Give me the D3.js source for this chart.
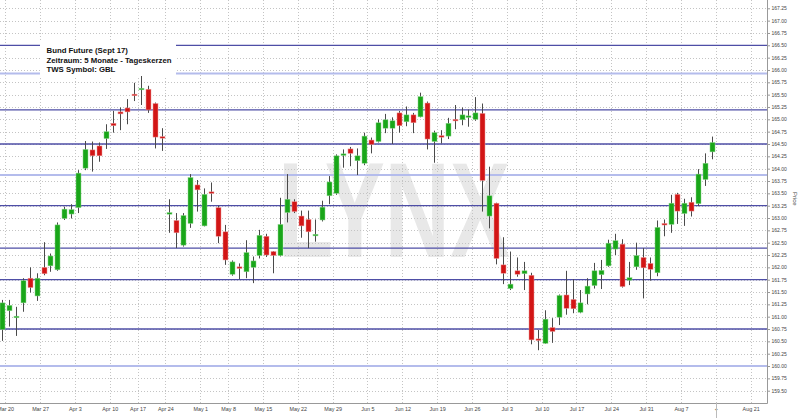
<!DOCTYPE html>
<html>
<head>
<meta charset="utf-8">
<script src="https://cdn.jsdelivr.net/npm/d3@7"></script>
<style>
  body { margin: 0; background: #fff; }
  svg { display: block; font-family: "Liberation Sans", Arial, sans-serif; }
</style>
</head>
<body>
<svg width="800" height="418"></svg>
<script>
const width = 800,
  height = 418;
const plotRight = 767,
  plotBottom = 403;

// Daily candles, Mar 17 - Aug 11 2017 (one entry per trading day)
const opens = [160.74, 161.12, 160.98, 161.28, 161.78, 161.42, 162.00, 162.03, 161.95, 162.99, 163.08, 163.21, 164.01, 164.38, 164.46, 164.61, 164.92, 165.15, 165.23, 165.51, 165.60, 165.61, 165.32, 164.65, 163.08, 162.95, 162.45, 162.89, 163.67, 162.84, 163.53, 163.21, 162.72, 161.86, 162.01, 161.91, 162.00, 162.24, 162.63, 162.32, 162.24, 163.11, 163.33, 163.04, 162.97, 162.64, 162.96, 163.45, 163.50, 164.28, 164.40, 164.16, 164.11, 164.58, 164.55, 164.82, 164.82, 165.13, 164.95, 165.09, 165.05, 165.33, 164.55, 164.67, 164.66, 165.00, 164.99, 165.04, 165.00, 165.12, 163.04, 163.30, 162.05, 161.57, 161.93, 161.87, 161.84, 160.55, 160.46, 160.78, 160.99, 161.44, 161.35, 161.09, 161.46, 161.63, 161.85, 162.03, 162.37, 162.47, 161.74, 162.01, 162.20, 162.08, 161.89, 162.89, 162.87, 163.48, 163.09, 163.32, 163.29, 163.78, 164.34];
const highs = [161.34, 161.34, 161.20, 161.78, 162.00, 161.88, 162.51, 162.28, 162.91, 163.23, 163.28, 163.97, 164.56, 164.55, 164.53, 164.90, 165.17, 165.24, 165.41, 165.74, 165.88, 165.68, 165.34, 164.82, 163.38, 163.10, 163.10, 163.89, 163.77, 163.60, 163.72, 163.25, 162.86, 162.14, 162.08, 162.55, 162.22, 162.76, 162.68, 162.33, 163.41, 163.89, 163.38, 163.15, 163.15, 162.97, 163.35, 163.85, 164.29, 164.39, 164.44, 164.41, 164.73, 164.63, 165.00, 165.11, 165.04, 165.17, 165.26, 165.13, 165.54, 165.36, 164.77, 164.78, 165.03, 165.29, 165.24, 165.20, 165.45, 165.32, 164.04, 163.31, 162.61, 162.32, 162.20, 162.11, 161.89, 160.73, 161.13, 160.97, 161.45, 161.93, 161.76, 161.54, 161.78, 162.09, 162.15, 162.56, 162.68, 162.57, 162.11, 162.50, 162.39, 162.20, 162.95, 162.97, 163.47, 163.51, 163.39, 163.42, 163.99, 164.31, 164.65];
const lows = [160.51, 160.80, 160.61, 161.10, 161.49, 161.32, 161.84, 161.91, 161.93, 162.96, 162.99, 163.10, 163.97, 163.94, 164.14, 164.40, 164.73, 164.78, 164.90, 165.37, 165.29, 165.13, 164.41, 164.36, 162.70, 162.39, 162.42, 162.80, 163.13, 162.83, 163.33, 162.49, 162.05, 161.83, 161.76, 161.78, 161.68, 162.18, 162.21, 161.88, 162.22, 162.91, 163.10, 162.60, 162.39, 162.52, 162.93, 163.28, 163.47, 164.02, 164.05, 163.87, 164.07, 164.31, 164.53, 164.72, 164.50, 164.73, 164.86, 164.72, 165.04, 164.39, 164.12, 164.51, 164.60, 164.80, 164.88, 164.85, 164.97, 163.13, 162.79, 162.06, 161.66, 161.54, 161.81, 161.54, 160.44, 160.32, 160.45, 160.47, 160.83, 161.04, 161.07, 161.07, 161.25, 161.57, 161.56, 162.01, 162.25, 161.59, 161.64, 161.95, 161.37, 161.73, 161.82, 162.63, 162.70, 162.88, 162.84, 163.03, 163.24, 163.65, 164.19];
const closes = [161.28, 161.23, 161.01, 161.73, 161.59, 161.78, 161.87, 162.23, 162.86, 163.18, 163.17, 163.91, 164.39, 164.26, 164.26, 164.75, 164.87, 165.11, 165.15, 165.48, 165.63, 165.19, 164.64, 164.62, 163.11, 162.70, 163.05, 163.82, 163.57, 163.48, 163.50, 162.63, 162.15, 162.11, 161.98, 162.30, 162.13, 162.65, 162.25, 162.24, 162.87, 163.38, 163.13, 162.84, 162.72, 162.67, 163.22, 163.73, 164.26, 164.30, 164.31, 164.26, 164.66, 164.49, 164.93, 164.99, 164.97, 164.87, 165.09, 164.93, 165.46, 164.60, 164.73, 164.64, 164.92, 164.97, 165.09, 165.07, 165.13, 163.76, 163.45, 162.18, 161.88, 161.66, 161.86, 161.93, 160.53, 160.52, 160.95, 160.70, 161.43, 161.17, 161.16, 161.28, 161.62, 161.93, 161.94, 162.49, 162.54, 161.61, 161.79, 162.24, 161.99, 161.96, 162.81, 162.86, 163.30, 163.14, 163.30, 163.14, 163.89, 164.11, 164.53];

// Week labels and the bar (trading day) each week starts on
const weekLabels = ['Mar 20', 'Mar 27', 'Apr 3', 'Apr 10', 'Apr 17', 'Apr 24', 'May 1', 'May 8', 'May 15', 'May 22', 'May 29', 'Jun 5', 'Jun 12', 'Jun 19', 'Jun 26', 'Jul 3', 'Jul 10', 'Jul 17', 'Jul 24', 'Jul 31', 'Aug 7', '+', 'Aug 21'];
const weekBars = [1, 6, 11, 16, 20, 24, 29, 33, 38, 43, 48, 53, 58, 63, 68, 73, 78, 83, 88, 93, 98, 103, 108];

const priceTicks = [159.5, 159.75, 160, 160.25, 160.5, 160.75, 161, 161.25, 161.5, 161.75, 162, 162.25, 162.5, 162.75, 163, 163.25, 163.5, 163.75, 164, 164.25, 164.5, 164.75, 165, 165.25, 165.5, 165.75, 166, 166.25, 166.5, 166.75, 167, 167.25];

// Drawn support / resistance levels
const strongLevels = [166.5, 165.19, 164.5, 163.25, 162.39, 161.75, 160.75];
const weakLevels = [165.93, 163.87, 160.0];

const legendLines = ['Bund Future (Sept 17)', 'Zeitraum: 5 Monate - Tageskerzen', 'TWS Symbol: GBL'];

const svg = d3.select('svg');

const x = d3.scaleLinear().domain([0, 102]).range([1.7, 712.3]);
const step = x(1) - x(0);
const y = d3.scaleLinear().domain([159.5, 167.25]).range([390.7, 8.3]);

svg.append('defs').append('clipPath').attr('id', 'plot')
  .append('rect').attr('width', plotRight).attr('height', plotBottom);

const plot = svg.append('g').attr('clip-path', 'url(#plot)');

// Watermark
plot.append('text')
  .attr('x', 278)
  .attr('y', 257)
  .attr('textLength', 232)
  .attr('lengthAdjust', 'spacingAndGlyphs')
  .attr('font-size', 136)
  .attr('font-weight', 'bold')
  .attr('fill', '#e8e8e8')
  .text('LYNX');

// Dotted grid
plot.append('g')
  .selectAll('line')
  .data(priceTicks)
  .join('line')
  .attr('x1', 0)
  .attr('x2', plotRight)
  .attr('y1', (d) => Math.round(y(d)) + 0.5)
  .attr('y2', (d) => Math.round(y(d)) + 0.5)
  .attr('stroke', '#c4c4c4')
  .attr('stroke-dasharray', '1,2');

plot.append('g')
  .selectAll('line')
  .data(weekBars)
  .join('line')
  .attr('x1', (d) => Math.round(x(d - 0.5)) + 0.5)
  .attr('x2', (d) => Math.round(x(d - 0.5)) + 0.5)
  .attr('y1', 0)
  .attr('y2', plotBottom)
  .attr('stroke', '#c4c4c4')
  .attr('stroke-dasharray', '1,2');

// Horizontal levels
plot.append('g')
  .selectAll('line')
  .data(weakLevels)
  .join('line')
  .attr('x1', 0)
  .attr('x2', plotRight)
  .attr('y1', (d) => y(d))
  .attr('y2', (d) => y(d))
  .attr('stroke', '#b4bcec')
  .attr('stroke-width', 2);

plot.append('g')
  .selectAll('line')
  .data(strongLevels)
  .join('line')
  .attr('x1', 0)
  .attr('x2', plotRight)
  .attr('y1', (d) => y(d))
  .attr('y2', (d) => y(d))
  .attr('stroke', '#4e4ea6')
  .attr('stroke-width', 1.3);

// Candles
const candles = plot.append('g')
  .selectAll('g')
  .data(d3.range(opens.length))
  .join('g');

candles.append('line')
  .attr('x1', (i) => Math.round(x(i)) + 0.5)
  .attr('x2', (i) => Math.round(x(i)) + 0.5)
  .attr('y1', (i) => y(highs[i]))
  .attr('y2', (i) => y(lows[i]))
  .attr('stroke', '#4a4a4a')
  .attr('stroke-width', 1);

candles.append('rect')
  .attr('x', (i) => Math.round(x(i)) - 2)
  .attr('width', 5)
  .attr('y', (i) => y(Math.max(opens[i], closes[i])))
  .attr('height', (i) => Math.max(1.6, Math.abs(y(opens[i]) - y(closes[i]))))
  .attr('fill', (i) => (closes[i] >= opens[i] ? '#19a619' : '#d21515'))
  .attr('stroke', (i) => (closes[i] >= opens[i] ? '#8fd68f' : '#ec9a9a'))
  .attr('stroke-width', 0.5);

// Legend box
const legend = svg.append('g');
legend.append('rect')
  .attr('x', 40)
  .attr('y', 41)
  .attr('width', 136)
  .attr('height', 35)
  .attr('fill', '#fff');
legend.selectAll('text')
  .data(legendLines)
  .join('text')
  .attr('x', 46.5)
  .attr('y', (d, i) => 53.3 + i * 9.5)
  .attr('font-size', 7.8)
  .attr('font-weight', 'bold')
  .attr('fill', '#111')
  .text((d) => d);

// Axes
const yAxis = svg.append('g')
  .attr('transform', `translate(${plotRight},0)`)
  .call(d3.axisRight(y).tickValues(priceTicks).tickFormat(d3.format('.2f')).tickSize(3).tickPadding(1.5));
yAxis.select('.domain').remove();
yAxis.selectAll('line').attr('stroke', '#999');
yAxis.selectAll('text').attr('font-size', 5).attr('fill', '#444').attr('font-family', null);

const xAxis = svg.append('g')
  .attr('transform', `translate(0,${plotBottom})`)
  .call(d3.axisBottom(x)
    .tickValues(weekBars.map((d) => d - 0.5))
    .tickFormat((d, i) => weekLabels[i])
    .tickSize(0)
    .tickPadding(4));
xAxis.select('.domain').remove();
xAxis.selectAll('text').attr('font-size', 5.4).attr('fill', '#444').attr('font-family', null);

svg.append('line')
  .attr('x1', 0).attr('x2', plotRight + 0.5)
  .attr('y1', plotBottom + 0.5).attr('y2', plotBottom + 0.5)
  .attr('stroke', '#999');
svg.append('line')
  .attr('x1', plotRight + 0.5).attr('x2', plotRight + 0.5)
  .attr('y1', 0).attr('y2', plotBottom + 0.5)
  .attr('stroke', '#999');
svg.append('line')
  .attr('x1', Math.round(x(102.5)) + 0.5).attr('x2', Math.round(x(102.5)) + 0.5)
  .attr('y1', plotBottom).attr('y2', height)
  .attr('stroke', '#bbb');

svg.append('text')
  .attr('transform', `translate(793,192) rotate(90)`)
  .attr('font-size', 6)
  .attr('fill', '#444')
  .text('Price');
</script>
</body>
</html>
